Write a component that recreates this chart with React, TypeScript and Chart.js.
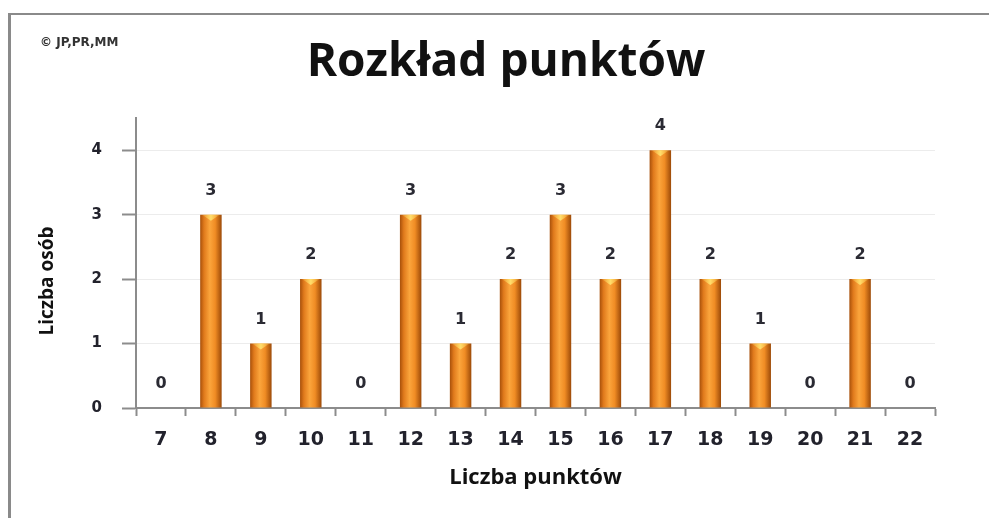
import React, { useEffect, useRef } from "react";
import { Chart, registerables } from "chart.js";

Chart.register(...registerables);

const categories: string[] = ["7", "8", "9", "10", "11", "12", "13", "14", "15", "16", "17", "18", "19", "20", "21", "22"];
const counts: number[] = [0, 3, 1, 2, 0, 3, 1, 2, 3, 2, 4, 2, 1, 0, 2, 0];
const yTicks: number[] = [0, 1, 2, 3, 4];
const chartTitle = "Rozkład punktów";
const xTitle = "Liczba punktów";
const yTitle = "Liczba osób";
const copyright = "© JP,PR,MM";

const BAR_PCT = 0.43;

export default function App() {
  const ref = useRef<HTMLCanvasElement | null>(null);

  useEffect(() => {
    const canvas = ref.current;
    if (!canvas) return;

    const decor = {
      id: "decor",
      afterDatasetsDraw(chart: any) {
        const ctx = chart.ctx;
        const meta = chart.getDatasetMeta(0);
        const ys = chart.scales.y;
        ctx.save();
        meta.data.forEach((el: any, i: number) => {
          const v = counts[i];
          const x = el.x;
          const w = el.width;
          if (v > 0) {
            const top = el.y;
            const g = ctx.createLinearGradient(x - w / 2, 0, x + w / 2, 0);
            g.addColorStop(0, "rgba(255,200,80,0.0)");
            g.addColorStop(0.5, "rgba(255,225,110,0.95)");
            g.addColorStop(1, "rgba(255,200,80,0.0)");
            ctx.fillStyle = g;
            ctx.beginPath();
            ctx.moveTo(x - w / 2 + 2, top);
            ctx.lineTo(x + w / 2 - 2, top);
            ctx.lineTo(x, top + 6);
            ctx.closePath();
            ctx.fill();
          }
          const ly = (v > 0 ? el.y : ys.getPixelForValue(0)) - 24;
          ctx.fillStyle = "#2a2a33";
          ctx.font = "bold 16px 'DejaVu Sans'";
          ctx.textAlign = "center";
          ctx.textBaseline = "middle";
          ctx.fillText(String(v), x, ly);
        });
        ctx.restore();
      },
      afterDraw(chart: any) {
        const ctx = chart.ctx;
        const ca = chart.chartArea;
        ctx.save();
        ctx.fillStyle = "#111";
        ctx.font = "bold 46px 'Open Sans'";
        ctx.textAlign = "center";
        ctx.textBaseline = "middle";
        ctx.fillText(chartTitle, 506, 63);
        ctx.font = "bold 12px 'DejaVu Sans'";
        ctx.fillStyle = "#333";
        ctx.textAlign = "left";
        ctx.fillText(copyright, 40, 43);
        ctx.translate(48, (ca.top + ca.bottom) / 2 + 18);
        ctx.rotate(-Math.PI / 2);
        ctx.font = "bold 19px 'Open Sans'";
        ctx.fillStyle = "#111";
        ctx.textAlign = "center";
        ctx.fillText(yTitle, 0, 0);
        ctx.restore();
      },
    };

    const chart = new Chart(canvas, {
      type: "bar",
      data: {
        labels: categories,
        datasets: [
          {
            data: counts,
            barPercentage: BAR_PCT,
            categoryPercentage: 1,
            borderWidth: 0,
            backgroundColor: (c: any) => {
              const ch = c.chart;
              const xs = ch.scales && ch.scales.x;
              if (!xs || !ch.chartArea) return "#f0922a";
              const cx = xs.getPixelForValue(c.dataIndex);
              const w = (xs.width / categories.length) * BAR_PCT;
              const g = ch.ctx.createLinearGradient(cx - w / 2, 0, cx + w / 2, 0);
              g.addColorStop(0, "#a8500a");
              g.addColorStop(0.18, "#e07a1c");
              g.addColorStop(0.45, "#fba53c");
              g.addColorStop(0.7, "#f08c24");
              g.addColorStop(1, "#9c4a08");
              return g;
            },
          },
        ],
      },
      options: {
        responsive: false,
        animation: false,
        layout: { padding: { left: 0, top: 118, right: 54, bottom: 0 } },
        plugins: {
          legend: { display: false },
          tooltip: { enabled: false },
          title: { display: false },
        },
        scales: {
          x: {
            grid: {
              offset: true,
              drawOnChartArea: false,
              drawTicks: true,
              tickLength: 8,
              tickColor: "#8c8c8c",
              tickWidth: 2,
            },
            border: { color: "#8c8c8c", width: 2 },
            ticks: {
              color: "#22222c",
              font: { family: "'DejaVu Sans'", size: 19, weight: "bold" },
              padding: 13,
              maxRotation: 0,
            },
            title: {
              display: true,
              text: xTitle,
              color: "#111",
              font: { family: "'Open Sans'", size: 22, weight: "bold" },
              padding: { top: 0, bottom: 27 },
            },
            afterFit: (s: any) => {
              s.height = 110;
            },
          },
          y: {
            min: 0,
            max: 4.5,
            ticks: {
              stepSize: 1,
              color: "#22222c",
              font: { family: "'DejaVu Sans'", size: 15, weight: "bold" },
              padding: 20,
            },
            afterBuildTicks: (s: any) => {
              s.ticks = yTicks.map((v) => ({ value: v }));
            },
            grid: {
              color: "#ececec",
              lineWidth: 1,
              tickLength: 14,
              tickColor: "#8c8c8c",
              tickWidth: 2,
            },
            border: { color: "#8c8c8c", width: 2 },
            afterFit: (s: any) => {
              s.width = 136;
            },
          },
        },
      },
      plugins: [decor],
    });

    return () => chart.destroy();
  }, []);

  return (
    <div style={{ position: "fixed", inset: 0, overflow: "hidden", background: "#fff" }}>
      <div
        style={{
          position: "absolute",
          left: 8,
          top: 13,
          width: 1200,
          height: 800,
          borderLeft: "3px solid #8a8a8a",
          borderTop: "2px solid #8a8a8a",
          boxSizing: "border-box",
        }}
      />
      <canvas
        ref={ref}
        width={989}
        height={518}
        style={{ position: "absolute", left: 0, top: 0, display: "block" }}
      />
    </div>
  );
}
